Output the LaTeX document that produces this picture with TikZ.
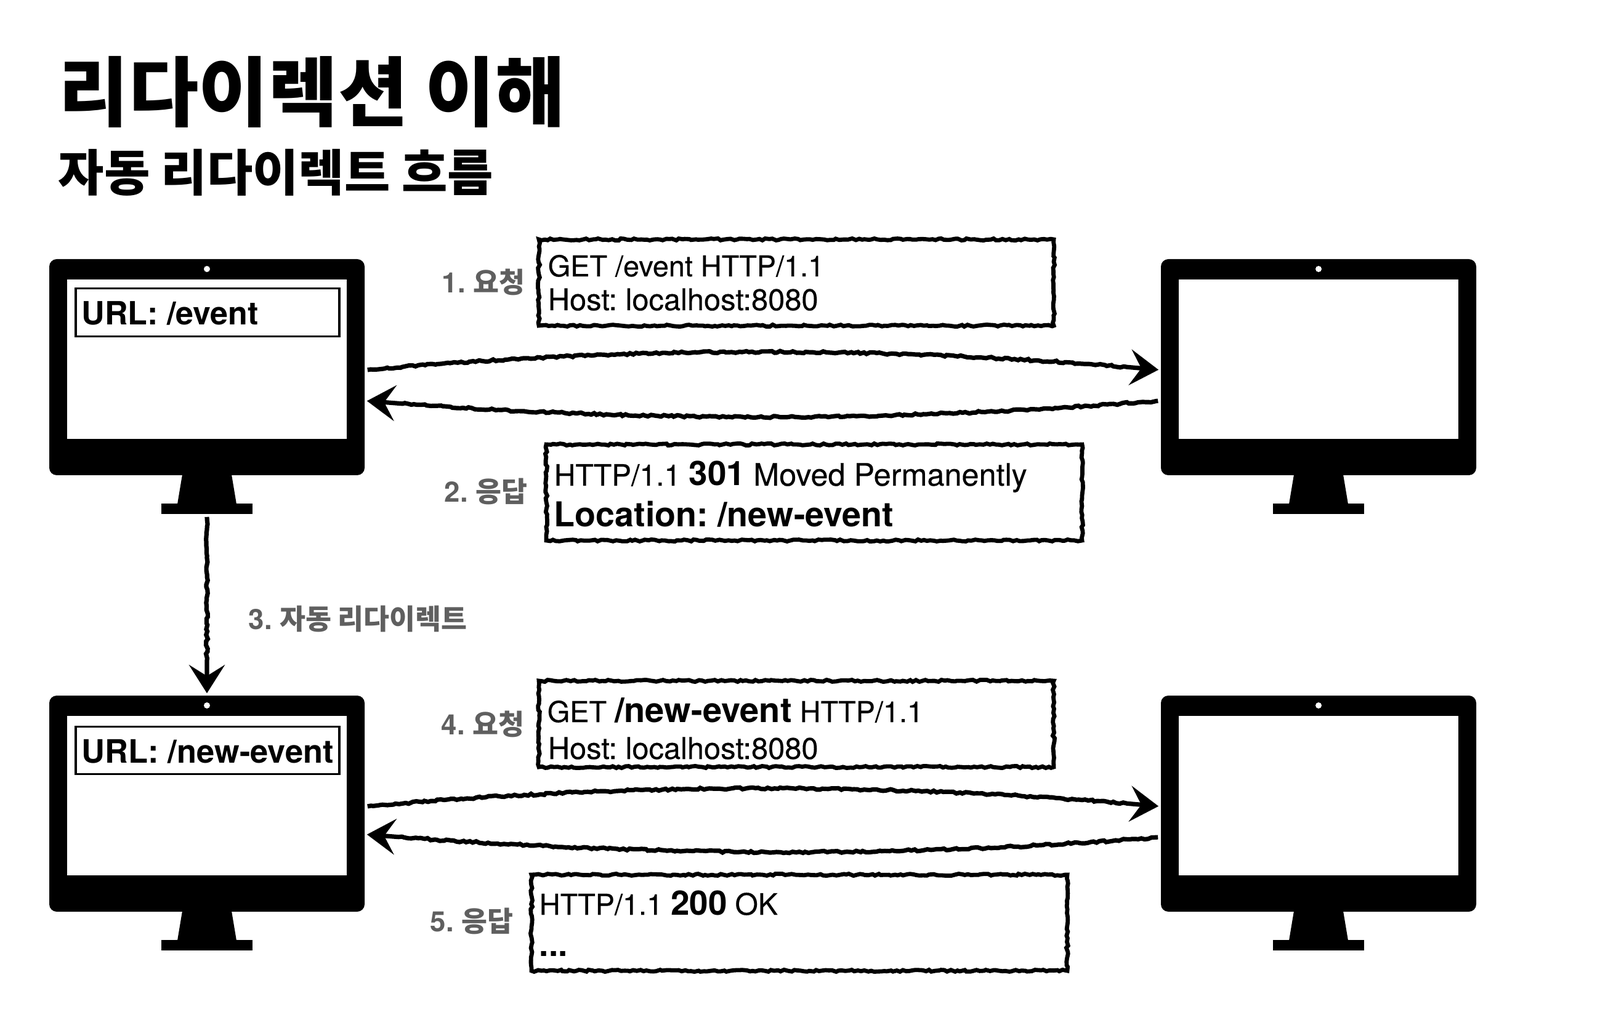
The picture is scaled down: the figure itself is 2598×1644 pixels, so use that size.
\documentclass[tikz,border=0pt]{standalone}
\usepackage{fontspec}
\usepackage{xcolor}
\usetikzlibrary{
  positioning, arrows.meta, decorations.pathmorphing,
}
\setmainfont{TeX Gyre Heros}
\newfontfamily\krfont{Noto Sans CJK KR}
\newfontfamily\msgfont{TeX Gyre Heros}[FakeBold=0.3]
\definecolor{cLabel}{HTML}{5F5F5F}
\newcommand{\fsz}[1]{\fontsize{#1}{#1}\selectfont}
\newcommand{\boldpart}[2]{{\fsz{#1}\normalfont\bfseries #2}}
\frenchspacing
\tikzset{
  sketch/.style={
    draw=black, line width=1.7pt, decorate,
    decoration={random steps, segment length=1.3pt, amplitude=0.4pt},
  },
  sketcharrow/.style={
    sketch, line width=1.8pt,
    decoration={random steps, segment length=1.3pt, amplitude=0.4pt,
                post=lineto, post length=14pt},
    -{Stealth[length=11.5pt, width=14.5pt, inset=4.5pt]},
    shorten >=0.75pt,
  },
  pcbody/.style={fill=black, rounded corners=3pt, inner sep=0pt,
                 minimum width=128pt, minimum height=87.75pt},
  pcscreen/.style={fill=white, inner sep=0pt,
                   minimum width=113.5pt, minimum height=64.75pt},
  pccamera/.style={fill=white, circle, inner sep=0pt, minimum size=2.5pt},
  pcbase/.style={fill=black, inner sep=0pt,
                 minimum width=37pt, minimum height=4.25pt},
  urlbox/.style={draw=black, line width=0.8pt, inner sep=0pt,
                 minimum width=107pt, minimum height=19.4pt},
  urltext/.style={anchor=base west, inner sep=0pt, font=\fsz{13pt}\bfseries},
  msgtext/.style={anchor=base west, inner sep=0pt, font=\fsz{11.7pt}\msgfont},
  steplabel/.style={anchor=base west, inner sep=0pt, text=cLabel,
                    font=\fsz{11.4pt}\bfseries},
}
\begin{document}
\begin{tikzpicture}[x=0.25pt, y=-0.25pt]
  \useasboundingbox (0,0) rectangle (2598,1644);

  % titles
  \node[anchor=base west, inner sep=0pt, font=\fsz{30.8pt}\bfseries\krfont] (title)
       at (95,196) {리다이렉션 이해};
  \node[anchor=base west, inner sep=0pt, font=\fsz{20.2pt}\bfseries\krfont] (subtitle)
       at (94,311) {자동 리다이렉트 흐름};

  % monitors
  \foreach \pcname/\px/\py in {pcA/0/0, pcB/1805/0, pcC/0/709, pcD/1805/709} {
    \node[pcbody] (\pcname) at (336+\px, 596.5+\py) {};
    \node[pcscreen] (\pcname screen) at (336+\px, 583.5+\py) {};
    \node[pccamera] (\pcname camera) at (336+\px, 437+\py) {};
    \node[pcbase] (\pcname base) at (336+\px, 826.5+\py) {};
    \fill (296+\px, 771+\py) -- (288+\px, 819+\py) -- (384+\px, 819+\py)
          -- (376+\px, 771+\py) -- cycle;
  }

  % url bars
  \node[urlbox] (urlA) at (337,507.5) {};
  \node[urltext] (urlAtext) at (132,528) {URL: /event};
  \node[urlbox] (urlC) at (337,1219) {};
  \node[urltext, font=\fsz{13.1pt}\bfseries] (urlCtext) at (132,1239) {URL: /new-event};

  % message boxes
  \node[sketch, inner sep=0pt, minimum width=209pt, minimum height=35pt] (reqA) at (1293,459) {};
  \node[msgtext] (reqAline) at (889,449) {GET /event HTTP/1.1};
  \node[msgtext, font=\fsz{12.2pt}\msgfont] (reqAhost) at (889,504) {Host: localhost:8080};

  \node[sketch, inner sep=0pt, minimum width=217.5pt, minimum height=39pt] (resB) at (1322,800) {};
  \node[msgtext, font=\fsz{12pt}\msgfont] (resBline) at (899,789)
       {HTTP/1.1 \boldpart{13.7pt}{301} {\fsz{12.6pt}Moved Permanently}};
  \node[msgtext, font=\fsz{13.9pt}\bfseries] (resBloc) at (899,856) {Location: /new-event};

  \node[sketch, inner sep=0pt, minimum width=209pt, minimum height=35pt] (reqC) at (1293,1176) {};
  \node[msgtext] (reqCline) at (888,1173)
       {GET \boldpart{14pt}{/new-event} HTTP/1.1};
  \node[msgtext, font=\fsz{12.2pt}\msgfont] (reqChost) at (889,1233) {Host: localhost:8080};

  \node[sketch, inner sep=0pt, minimum width=217.5pt, minimum height=39pt] (resD) at (1298,1499) {};
  \node[msgtext] (resDline) at (875,1486)
       {HTTP/1.1 \boldpart{13.7pt}{200} {\fsz{12pt}OK}};
  \node[msgtext, font=\fsz{13.7pt}\bfseries] (resDdots) at (875,1553) {...};

  % step labels
  \node[steplabel] (stepA) at (717,476) {1. {\krfont 요청}};
  \node[steplabel] (stepB) at (721,816) {2. {\krfont 응답}};
  \node[steplabel] (stepC) at (403,1023) {3. {\krfont 자동 리다이렉트}};
  \node[steplabel] (stepD) at (716,1193) {4. {\krfont 요청}};
  \node[steplabel] (stepE) at (698,1513) {5. {\krfont 응답}};

  % arrows
  \draw[sketcharrow] ([xshift=1pt]pcA.-1.8) .. controls +(430,-39) and +(-430,-39) .. (pcB.181.8);
  \draw[sketcharrow] ([xshift=-1pt]pcB.192.7) .. controls +(-430,35) and +(430,35) .. (pcA.-12.7);
  \draw[sketcharrow] ([xshift=1pt]pcC.-1.8) .. controls +(430,-39) and +(-430,-39) .. (pcD.181.8);
  \draw[sketcharrow] ([xshift=-1pt]pcD.192.2) .. controls +(-430,35) and +(430,35) .. (pcC.-11.5);
  \draw[sketcharrow] ([yshift=-1pt]pcAbase.south) -- (pcC.north);
\end{tikzpicture}
\end{document}
